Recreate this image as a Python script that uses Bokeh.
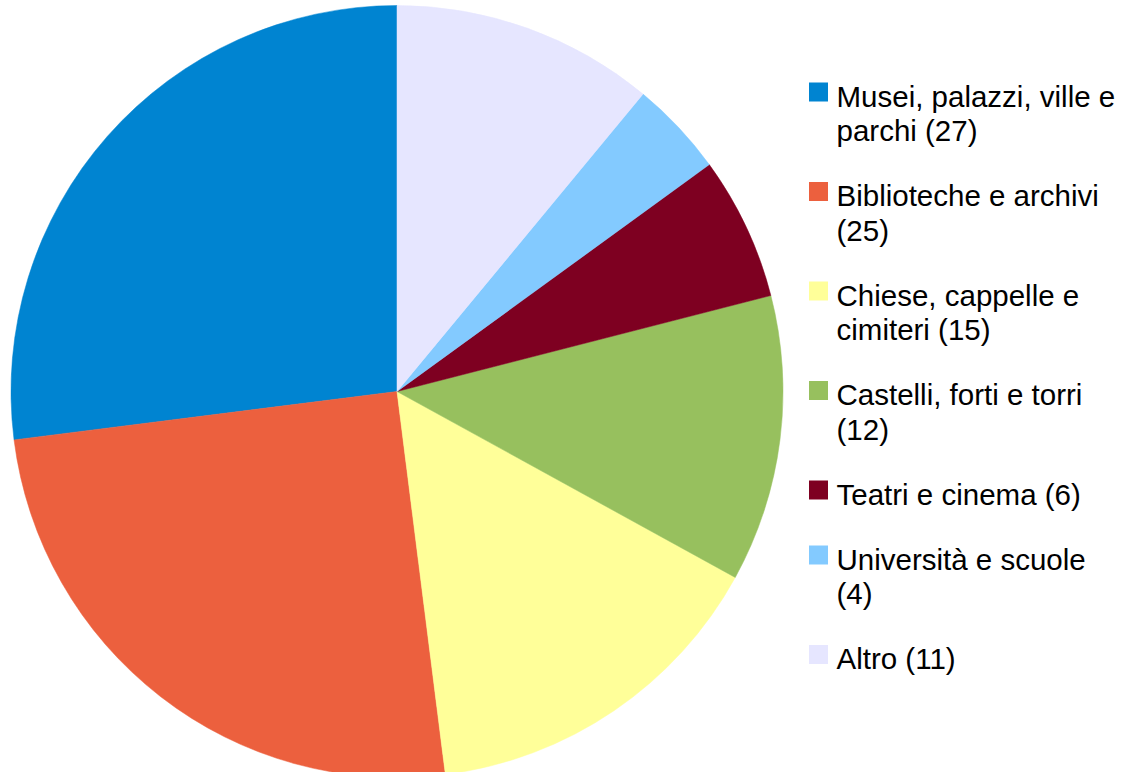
import math
from bokeh.plotting import figure
from bokeh.models import ColumnDataSource, Range1d
from bokeh.core.properties import value
from bokeh.embed import file_html
from bokeh.resources import INLINE

# ---- data ----
categories = ["Musei, palazzi, ville e parchi", "Biblioteche e archivi",
              "Chiese, cappelle e cimiteri", "Castelli, forti e torri",
              "Teatri e cinema", "Università e scuole", "Altro"]
counts = [27, 25, 15, 12, 6, 4, 11]
legend_lines = [["Musei, palazzi, ville e", "parchi (27)"],
                ["Biblioteche e archivi", "(25)"],
                ["Chiese, cappelle e", "cimiteri (15)"],
                ["Castelli, forti e torri", "(12)"],
                ["Teatri e cinema (6)"],
                ["Università e scuole", "(4)"],
                ["Altro (11)"]]
colors = ["#0084D1", "#EC603E", "#FFFF99", "#97C05E", "#7E0021", "#83CAFF", "#E6E6FF"]

# ---- layout (canvas pixel coordinates; y measured downward from top) ----
W, H = 1118, 772
cx, cy, r = 396.5, 391.0, 386.0
def py(y):
    return H - y

total = float(sum(counts))
starts, ends = [], []
a = math.pi / 2
for c in counts:
    starts.append(a)
    a += 2 * math.pi * c / total
    ends.append(a)

p = figure(width=W, height=H, output_backend="svg", toolbar_location=None,
           x_range=Range1d(0, W), y_range=Range1d(0, H),
           min_border=0, outline_line_color=None, background_fill_color="white",
           border_fill_color="white")
p.axis.visible = False
p.grid.visible = False

pie_src = ColumnDataSource(dict(cat=categories, val=counts, start=starts, end=ends,
                                color=colors, x=[cx] * len(counts), y=[py(cy)] * len(counts)))
p.wedge(x="x", y="y", radius=r, start_angle="start", end_angle="end",
        fill_color="color", line_color="color", line_width=0.5, source=pie_src)

# legend
sq_x, txt_x = 818.0, 836.0
base = 104.0
line_step, gap = 34.5, 65.0
sx, sy, sc, tx, ty, tt = [], [], [], [], [], []
for lines, col in zip(legend_lines, colors):
    sx.append(sq_x)
    sy.append(py(base - 12.5))
    sc.append(col)
    for i, ln in enumerate(lines):
        tx.append(txt_x)
        ty.append(py(base - 8.5 + i * line_step))
        tt.append(ln)
    base += line_step * (len(lines) - 1) + gap

p.rect(x=sx, y=sy, width=19, height=19, fill_color=sc, line_color=None)
p.text(x=tx, y=ty, text=tt, text_font=value("Liberation Sans"), text_font_size="29.5px",
       text_color="#000000", text_baseline="alphabetic", text_align="left")

open("out.html", "w").write(file_html(p, INLINE))
